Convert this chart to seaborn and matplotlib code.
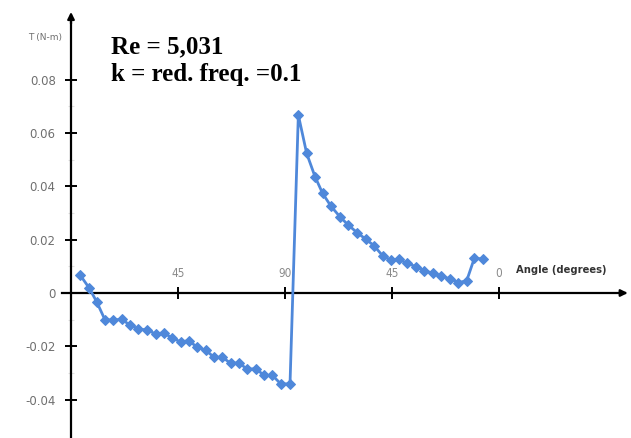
import matplotlib
matplotlib.use("Agg")
import matplotlib.pyplot as plt
import seaborn as sns
import pandas as pd

# Phase position along the cycle (0 -> 90 on the upstroke, back to 0 at 180)
phase = [3.8, 7.7, 10.8, 14.3, 17.8, 21.3, 24.8, 28.3, 32.1, 35.6, 39.1, 42.6,
         46.1, 49.6, 53.1, 56.6, 60.1, 63.6, 67.2, 70.6, 74.1, 77.7, 81.2, 84.7,
         88.2, 92.1, 95.6, 99.1, 102.6, 105.8, 109.3, 113.1, 116.6, 120.4, 124.1,
         127.5, 131.1, 134.4, 138.1, 141.4, 145.1, 148.6, 152.1, 155.6, 159.4,
         162.9, 166.4, 169.6, 173.1]
# Torque T (N-m)
torque = [0.0068, 0.0018, -0.0033, -0.0101, -0.0101, -0.0099, -0.0120, -0.0135,
          -0.0139, -0.0154, -0.0149, -0.0170, -0.0183, -0.0179, -0.0204, -0.0214,
          -0.0241, -0.0241, -0.0264, -0.0262, -0.0286, -0.0284, -0.0309, -0.0309,
          -0.0341, -0.0341, 0.0668, 0.0524, 0.0437, 0.0374, 0.0326, 0.0286,
          0.0255, 0.0226, 0.0201, 0.0177, 0.0139, 0.0124, 0.0126, 0.0111, 0.0099,
          0.0084, 0.0074, 0.0064, 0.0053, 0.0039, 0.0046, 0.0130, 0.0128]

x_tick_pos = [45, 90, 135, 180]
x_tick_labels = ["45", "90", "45", "0"]
y_tick_pos = [0.08, 0.06, 0.04, 0.02, 0.0, -0.02, -0.04]
y_tick_labels = ["0.08", "0.06", "0.04", "0.02", "0", "-0.02", "-0.04"]

sns.set_style("white")
plt.rcParams["font.family"] = ["DejaVu Sans"]

fig = plt.figure(figsize=(6.31, 4.38), dpi=100)
ax = fig.add_axes([0, 0, 1, 1])
ax.set_xlim(-29.86, 235.5)
ax.set_ylim(-0.05441, 0.10994)

df = pd.DataFrame({"phase": phase, "T": torque})
blue = "#4f88da"
sns.lineplot(data=df, x="phase", y="T", ax=ax, color=blue, linewidth=2.0,
             marker="D", markersize=5.5, markeredgecolor=blue, sort=False,
             zorder=3)
ax.set_xlabel("")
ax.set_ylabel("")

# Axes crossing at the origin
for side in ("top", "right"):
    ax.spines[side].set_visible(False)
ax.spines["left"].set_position(("data", 0))
ax.spines["bottom"].set_position(("data", 0))
ax.spines["left"].set_bounds(-0.0545, 0.104)
ax.spines["bottom"].set_bounds(-3.8, 233)
for side in ("left", "bottom"):
    ax.spines[side].set_color("black")
    ax.spines[side].set_linewidth(1.6)
    ax.spines[side].set_zorder(2)

# Arrow heads
ax.annotate("", xy=(0, 0.1065), xytext=(0, 0.100),
            arrowprops=dict(arrowstyle="-|>", color="black", lw=1.6,
                            mutation_scale=10))
ax.annotate("", xy=(235.3, 0), xytext=(229, 0),
            arrowprops=dict(arrowstyle="-|>", color="black", lw=1.6,
                            mutation_scale=10))

ax.set_yticks(y_tick_pos)
ax.set_yticklabels(y_tick_labels)
ax.set_xticks(x_tick_pos)
ax.set_xticklabels(x_tick_labels)
ax.tick_params(axis="y", direction="inout", length=8, width=1.4, colors="black",
               labelcolor="#6f6f6f", labelsize=8.5, pad=7, left=True)
ax.tick_params(axis="x", direction="inout", length=8, width=1.4, colors="black",
               labelcolor="#8a8a8a", labelsize=8.5, pad=-23, bottom=True)
for lab in ax.get_xticklabels():
    lab.set_fontstretch("condensed")

ax.set_yticks([0.07, 0.05, 0.03, 0.01, -0.01, -0.03], minor=True)
ax.tick_params(axis="y", which="minor", direction="inout", length=4, width=0.8,
               colors="#e2e2e2", left=True)

ax.text(-3.8, 0.0960, "T (N-m)", fontsize=6.5, color="#6f6f6f",
        ha="right", va="center")
ax.text(187, 0.0085, "Angle (degrees)", fontsize=7.2, color="#333333",
        fontweight="bold", ha="left", va="center")
ax.text(16.8, 0.0872, "Re = 5,031\nk = red. freq. =0.1",
        fontsize=18, fontweight="bold", family="Liberation Serif",
        color="black", ha="left", va="center", linespacing=1.25)

fig.savefig("out.png", dpi=100)
